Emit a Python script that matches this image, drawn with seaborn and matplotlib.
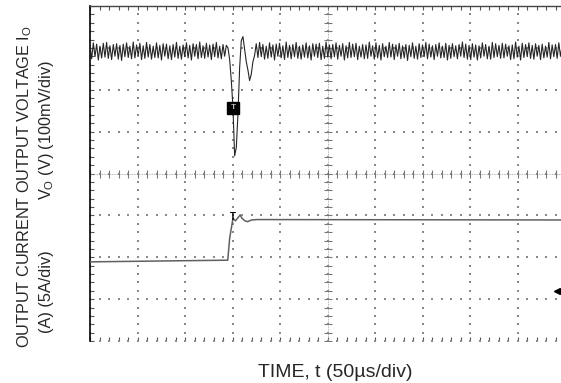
import numpy as np
import pandas as pd
import matplotlib
matplotlib.use('Agg')
import matplotlib.pyplot as plt
import seaborn as sns

sns.set_theme(style='white')
plt.rcParams['font.family'] = ['Liberation Sans', 'DejaVu Sans']
plt.rcParams['mathtext.default'] = 'regular'

# scope settings
time_per_div = 50.0      # us/div
volt_per_div = 100.0     # mV/div
amp_per_div = 5.0        # A/div
volt_offset_div = 6.92   # channel 1 ground position
amp_offset_div = 1.89    # channel 2 ground position
trig_level_div = 1.19
sample_step = 1.75       # us

# output voltage deviation (mV), one sample every 1.75 us
volt_mv = [
    15, -18, 20, -13, 17, -21, 12, -16, 19, -14,
    21, -17, 13, -20, 16, -12, 18, -19, 14, -22,
    17, -13, 20, -15, 12, -18, 22, -16, 15, -11,
    19, -20, 13, -17, 21, -14, 16, -19, 12, -15,
    20, -16, 14, -21, 18, -12, 17, -18, 13, -20,
    16, -14, 21, -17, 12, -19, 15, -13, 20, -16,
    14, -21, 18, -12, 16, -18, 22, -15, 13, -17,
    19, -14, 15, -20, 17, -13, 21, -16, 12, -18,
    16, -12, 14,
    # load step transient
    8, -20, -70, -135, -250, -230, -150, -40, 25, 35,
    5, -25, -45, -70, -55, -25, -10,
    18, -15, 21, -13, 16, -19, 12, -17, 20, -14,
    15, -21, 17, -12, 19, -16, 13, -20, 22, -15,
    14, -18, 16, -13, 21, -17, 12, -19, 15, -14,
    20, -16, 13, -21, 18, -12, 17, -15, 19, -20,
    12, -17, 22, -14, 15, -18, 16, -13, 20, -19,
    14, -12, 18, -21, 13, -16, 21, -15, 17, -13,
    19, -20, 12, -14, 16, -18, 15, -17, 22, -12,
    13, -19, 20, -16, 14, -21, 18, -13, 12, -15,
    21, -14, 17, -20, 15, -12, 19, -18, 13, -16,
    16, -22, 14, -13, 20, -17, 12, -19, 18, -15,
    15, -13, 21, -18, 17, -14, 13, -20, 16, -12,
    20, -16, 12, -15, 19, -21, 14, -17, 18, -13,
    13, -18, 16, -12, 22, -15, 17, -19, 14, -20,
    18, -14, 15, -21, 13, -16, 20, -12, 16, -18,
    12, -19, 21, -15, 18, -13, 14, -17, 19, -16,
    17, -12, 13, -20, 15, -18, 22, -14, 12, -21,
    19, -15, 16, -13, 20, -17, 14, -19, 18, -12,
    14, -20, 17, -16, 12, -14, 21, -18, 15, -13,
    16, -17, 20, -12, 13, -15,
]
trig_index = 86

# output current step (us, A)
amp_time = [0, 145, 147, 150.5, 153, 156, 158, 160, 163, 166, 170, 176, 500]
amp_val = [0, 0.2, 2.8, 5.2, 4.9, 5.3, 5.6, 5.2, 4.9, 4.8, 5.0, 5.05, 5.0]
amp_trig_index = 3

volt_time = np.arange(len(volt_mv)) * sample_step
df_v = pd.DataFrame({'x': volt_time / time_per_div,
                     'y': np.array(volt_mv) / volt_per_div + volt_offset_div})
df_i = pd.DataFrame({'x': np.array(amp_time) / time_per_div,
                     'y': np.array(amp_val) / amp_per_div + amp_offset_div})

fig = plt.figure(figsize=(5.61, 3.83), dpi=100)
ax = fig.add_axes([90 / 561, 42 / 383, 475 / 561, 335 / 383])
ax.set_xlim(0, 10)
ax.set_ylim(0, 8)

# graticule dots
gx, gy = [], []
for v in range(0, 11):
    for s in np.arange(0, 8.01, 0.2):
        gx.append(v); gy.append(s)
for h in range(0, 9):
    for s in np.arange(0, 10.01, 0.2):
        gx.append(s); gy.append(h)
ax.scatter(gx, gy, s=1.2, marker='s', color='#8a8a8a', linewidths=0, zorder=1)

# center crosshair
ax.axhline(4, color='#9a9a9a', lw=0.6, ls=(0, (1, 1)), zorder=1)
ax.axvline(5, color='#9a9a9a', lw=0.6, ls=(0, (1, 1)), zorder=1)
ax.plot(np.arange(0, 10.01, 0.2), np.full(51, 4.0), ls='none', marker='|',
        ms=6, mew=0.8, color='#777777', zorder=1)
ax.plot(np.full(41, 5.0), np.arange(0, 8.01, 0.2), ls='none', marker='_',
        ms=6, mew=0.8, color='#777777', zorder=1)

sns.lineplot(data=df_i, x='x', y='y', ax=ax, color='#606060', lw=1.1,
             sort=False, estimator=None, zorder=3)
sns.lineplot(data=df_v, x='x', y='y', ax=ax, color='#262626', lw=0.8,
             sort=False, estimator=None, zorder=4)

# trigger markers
ax.plot(df_v['x'][trig_index], df_v['y'][trig_index], marker='s', ms=8,
        color='black', zorder=5)
ax.text(df_v['x'][trig_index], df_v['y'][trig_index], 'T', color='#bbbbbb',
        fontsize=6, ha='center', va='center', fontweight='bold', zorder=6)
ax.text(df_i['x'][amp_trig_index], df_i['y'][amp_trig_index] + 0.02, 'T',
        color='black', fontsize=7, ha='center', va='center',
        fontweight='bold', zorder=6)
ax.plot(9.84, trig_level_div, marker='<', ms=4, color='black', zorder=5)

ax.set_xticks(np.arange(0, 11, 1))
ax.set_yticks(np.arange(0, 9, 1))
ax.set_xticks(np.arange(0, 10.01, 0.2), minor=True)
ax.set_yticks(np.arange(0, 8.01, 0.2), minor=True)
ax.tick_params(which='both', direction='in', length=3, width=0.8,
               colors='#555555', top=True, bottom=True, left=True, right=False,
               labelbottom=False, labelleft=False)
for side in ['bottom', 'right']:
    ax.spines[side].set_visible(False)
ax.spines['left'].set_color('black')
ax.spines['left'].set_linewidth(1.2)
ax.spines['top'].set_color('#444444')
ax.spines['top'].set_linewidth(1.0)
ax.set_xlabel('')
ax.set_ylabel('')

fig.text(335 / 561, 1 - 377 / 383, 'TIME, t (50µs/div)', ha='center',
         va='baseline', fontsize=14)
fig.text(25 / 561, 1 - 187 / 383,
         'OUTPUT CURRENT OUTPUT VOLTAGE I$_O$', rotation=90,
         ha='center', va='center', fontsize=11.7)
fig.text(46 / 561, 1 - 292 / 383, '(A) (5A/div)', rotation=90,
         ha='center', va='center', fontsize=11.7)
fig.text(46 / 561, 1 - 130 / 383, 'V$_O$ (V) (100mV/div)', rotation=90,
         ha='center', va='center', fontsize=11.7)

fig.savefig('out.png', dpi=100)
